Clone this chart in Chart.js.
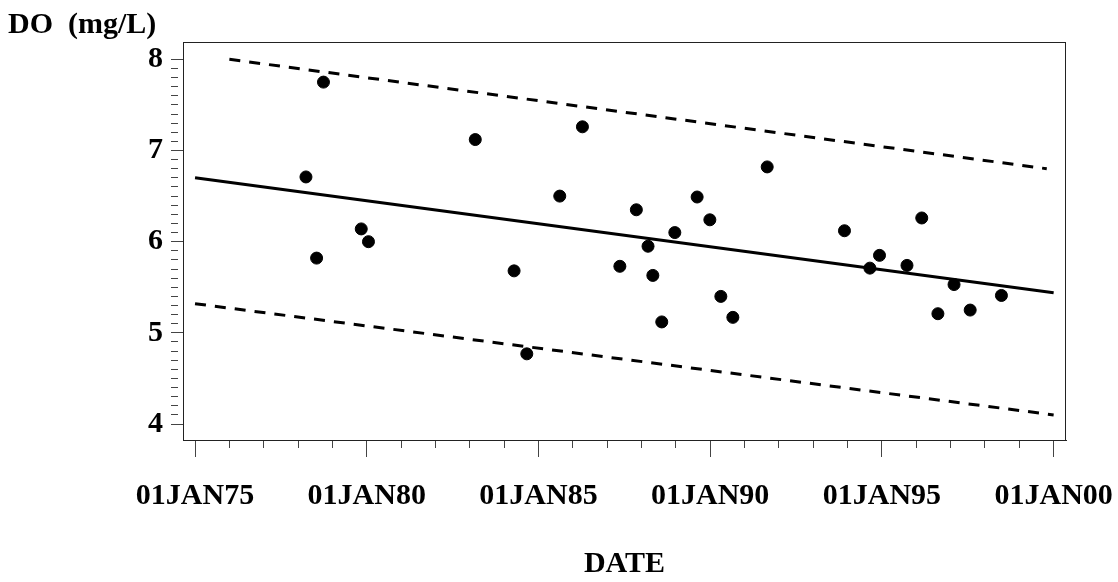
<!DOCTYPE html>
<html>
<head>
<meta charset="utf-8">
<script src="https://cdn.jsdelivr.net/npm/chart.js@4"></script>
<style>
  html, body { margin: 0; padding: 0; background: #fff; }
  canvas { display: block; }
</style>
</head>
<body>
<canvas id="doChart" width="1118" height="582"></canvas>
<script>
// sample dates (decimal years) and dissolved oxygen readings
const sampleYears = [1978.23, 1978.54, 1978.74, 1979.84, 1980.05, 1983.16, 1984.29, 1984.66,
  1985.62, 1986.28, 1987.37, 1987.85, 1988.19, 1988.33, 1988.59, 1988.97, 1989.62, 1989.99,
  1990.31, 1990.66, 1991.66, 1993.91, 1994.65, 1994.93, 1995.73, 1996.16, 1996.63, 1997.10,
  1997.57, 1998.48];
const doValues = [6.71, 5.82, 7.75, 6.14, 6.00, 7.12, 5.68, 4.77,
  6.50, 7.26, 5.73, 6.35, 5.95, 5.63, 5.12, 6.10, 6.49, 6.24,
  5.40, 5.17, 6.82, 6.12, 5.71, 5.85, 5.74, 6.26, 5.21, 5.53,
  5.25, 5.41];

// regression line and interval bounds (end points)
const fitYears = [1975, 2000];
const fitValues = [6.70, 5.44];
const upperYears = [1976.0, 1999.8];
const upperValues = [8.00, 6.80];
const lowerYears = [1975, 2000];
const lowerValues = [5.32, 4.10];

// axis ticks
const xTickYears = [1975, 1980, 1985, 1990, 1995, 2000];
const xTickLabels = ['01JAN75', '01JAN80', '01JAN85', '01JAN90', '01JAN95', '01JAN00'];
const yTickLabels = ['4', '5', '6', '7', '8'];

const FONT = { family: 'Liberation Serif', size: 30, weight: 'bold' };
const AXIS_COLOR = '#444';

function toPoints(xs, ys) {
  return xs.map((x, i) => ({ x: x, y: ys[i] }));
}

function isMajorX(v) { return xTickYears.includes(v); }
function isMajorY(v) { return Math.abs(v - Math.round(v)) < 1e-6; }

// frame around the plot + y axis title written across the top
const framePlugin = {
  id: 'frame',
  afterDraw(chart) {
    const a = chart.chartArea;
    const c = chart.ctx;
    c.save();
    c.strokeStyle = '#222';
    c.lineWidth = 1;
    c.strokeRect(a.left + 0.5, a.top + 0.5, a.right - a.left - 1, a.bottom - a.top);
    c.fillStyle = '#000';
    c.font = 'bold 30px "Liberation Serif"';
    c.textBaseline = 'alphabetic';
    c.fillText('DO  (mg/L)', 8, 33);
    c.restore();
  }
};

new Chart(document.getElementById('doChart'), {
  type: 'scatter',
  data: {
    datasets: [
      {
        label: 'DO',
        data: toPoints(sampleYears, doValues),
        backgroundColor: '#000',
        borderColor: '#000',
        pointRadius: 6,
        pointHoverRadius: 6
      },
      {
        label: 'fit',
        type: 'line',
        data: toPoints(fitYears, fitValues),
        borderColor: '#000',
        borderWidth: 3,
        pointRadius: 0,
        fill: false
      },
      {
        label: 'upper',
        type: 'line',
        data: toPoints(upperYears, upperValues),
        borderColor: '#000',
        borderWidth: 3,
        borderDash: [11, 9],
        pointRadius: 0,
        fill: false
      },
      {
        label: 'lower',
        type: 'line',
        data: toPoints(lowerYears, lowerValues),
        borderColor: '#000',
        borderWidth: 3,
        borderDash: [11, 9],
        pointRadius: 0,
        fill: false
      }
    ]
  },
  options: {
    responsive: false,
    animation: false,
    layout: { padding: { top: 42, right: 52, left: 0, bottom: 0 } },
    plugins: {
      legend: { display: false },
      tooltip: { enabled: false }
    },
    scales: {
      x: {
        type: 'linear',
        min: 1974.65,
        max: 2000.36,
        afterBuildTicks(scale) {
          const t = [];
          for (let y = 1975; y <= 2000; y++) t.push({ value: y });
          scale.ticks = t;
        },
        afterFit(scale) {
          scale.height = 142;
          scale.paddingLeft = 0;
          scale.paddingRight = 0;
        },
        border: { display: true, color: '#222', width: 1 },
        grid: {
          drawOnChartArea: false,
          drawTicks: true,
          tickLength: 17,
          tickWidth: 1,
          tickColor: AXIS_COLOR,
          tickBorderDash: ctx => (ctx.tick && isMajorX(ctx.tick.value)) ? [] : [7, 60]
        },
        ticks: {
          autoSkip: false,
          maxRotation: 0,
          padding: 21,
          color: '#000',
          font: FONT,
          callback: v => {
            const i = xTickYears.indexOf(v);
            return i >= 0 ? xTickLabels[i] : '';
          }
        },
        title: {
          display: true,
          text: 'DATE',
          color: '#000',
          font: FONT,
          padding: { top: 0, bottom: 0 }
        }
      },
      y: {
        min: 3.825,
        max: 8.19,
        afterBuildTicks(scale) {
          const t = [];
          for (let i = 40; i <= 80; i++) t.push({ value: i / 10 });
          scale.ticks = t;
        },
        afterFit(scale) { scale.width = 183; },
        border: { display: true, color: '#555', width: 1 },
        grid: {
          drawOnChartArea: false,
          drawTicks: true,
          tickLength: 12,
          tickWidth: 1,
          tickColor: AXIS_COLOR,
          tickBorderDash: ctx => (ctx.tick && isMajorY(ctx.tick.value)) ? [] : [7, 60]
        },
        ticks: {
          autoSkip: false,
          padding: 8,
          color: '#000',
          font: FONT,
          callback: v => {
            if (!isMajorY(v)) return '';
            const i = Math.round(v) - 4;
            return yTickLabels[i];
          }
        }
      }
    }
  },
  plugins: [framePlugin]
});
</script>
</body>
</html>
